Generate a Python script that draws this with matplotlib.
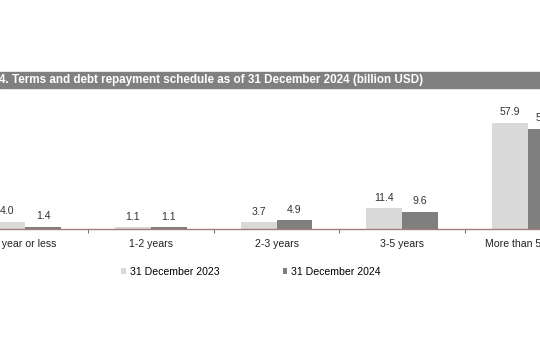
import matplotlib
matplotlib.use("Agg")
import matplotlib.pyplot as plt
import matplotlib.patches as mpatches
import numpy as np

plt.rcParams['font.family'] = ['Liberation Sans', 'DejaVu Sans']

# data
categories = ['1 year or less', '1-2 years', '2-3 years', '3-5 years', 'More than 5 years']
dec_2023 = [4.0, 1.1, 3.7, 11.4, 57.9]
dec_2024 = [1.4, 1.1, 4.9, 9.6, 54.6]
series_names = ['31 December 2023', '31 December 2024']
title = '4. Terms and debt repayment schedule as of 31 December 2024 (billion USD)'

c23 = '#D9D9D9'
c24 = '#7F7F7F'
axis_col = '#9E7F7F'
fs = 7.6

W, H = 540, 360
fig = plt.figure(figsize=(W / 100, H / 100), dpi=100)

# axes deliberately wider than the figure (chart is cropped on both sides)
left_px, right_px = -37.7, 590.7
base_px, top_px = 229.3, 100.4
ax = fig.add_axes([left_px / W, 1 - base_px / H, (right_px - left_px) / W, (base_px - top_px) / H])

x = np.arange(len(categories))
bw = 0.286
b1 = ax.bar(x - bw / 2, dec_2023, bw, color=c23, label=series_names[0])
b2 = ax.bar(x + bw / 2, dec_2024, bw, color=c24, label=series_names[1])

for bars, vals in [(b1, dec_2023), (b2, dec_2024)]:
    for b, v in zip(bars, vals):
        ax.annotate(f'{v:.1f}', (b.get_x() + b.get_width() / 2, v), xytext=(0, 4),
                    textcoords='offset points', ha='center', va='bottom',
                    fontsize=fs, color='#333333')

ax.set_xlim(-0.5, len(categories) - 0.5)
ax.set_ylim(0, 70)
ax.set_yticks([])
for s in ['top', 'left', 'right']:
    ax.spines[s].set_visible(False)
ax.spines['bottom'].set_color(axis_col)
ax.spines['bottom'].set_linewidth(1.0)

ax.set_xticks(x)
ax.set_xticklabels(categories, fontsize=fs, color='#222222')
ax.tick_params(axis='x', which='major', length=0, pad=7)
ax.set_xticks(np.arange(len(categories) + 1) - 0.5, minor=True)
ax.tick_params(axis='x', which='minor', length=3, color='#555555', direction='out')

# title band
fig.patches.append(mpatches.Rectangle((0, 1 - 88 / H), 1, 16 / H, transform=fig.transFigure,
                                      color='#808080', zorder=0))
fig.text(-1 / W, 1 - 80.5 / H, title, color='white', fontsize=8.4, fontweight='bold',
         ha='left', va='center')

fig.legend(handles=[b1, b2], loc='center', bbox_to_anchor=(251 / W, 1 - 272 / H),
           ncol=2, frameon=False, fontsize=fs, handlelength=0.45, handleheight=0.45,
           handletextpad=0.35, columnspacing=6.0)

fig.savefig('out.png', dpi=100)
